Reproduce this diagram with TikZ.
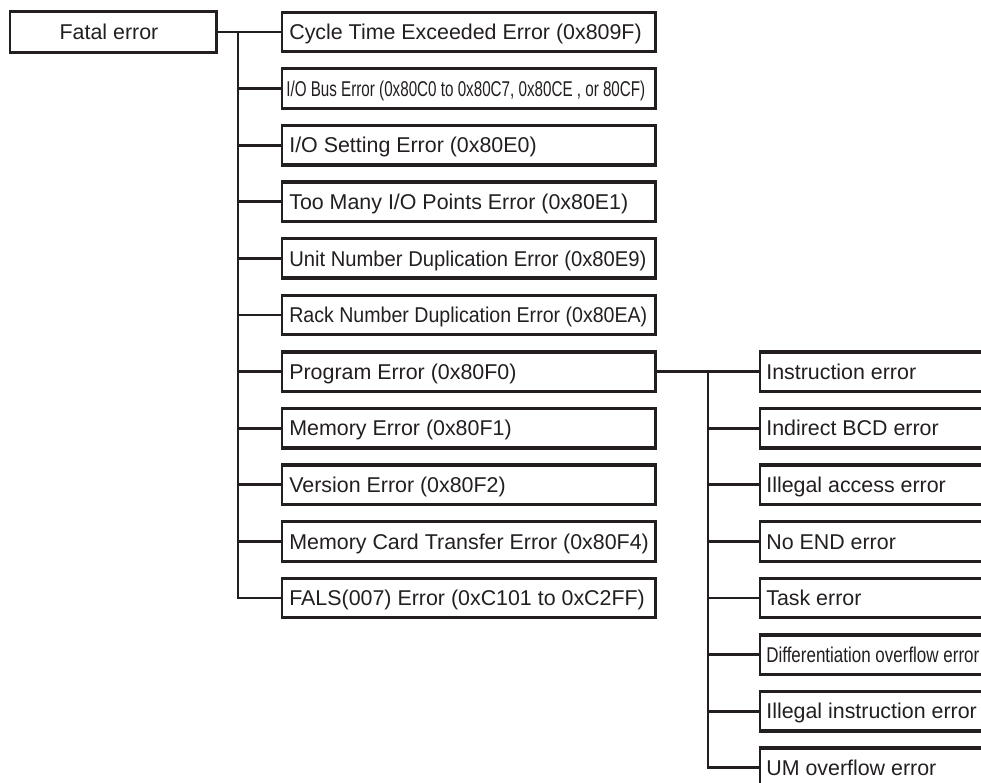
\documentclass[tikz,border=0pt]{standalone}
\usepackage{fontspec}
\setmainfont{Liberation Sans}
\usepackage{graphicx}
\definecolor{ink}{HTML}{231F20}
\newcommand\fitto[2]{\resizebox{#1}{\height}{#2}}
\newcommand\heavyedges[1]{\draw[ink, line width=3pt, line join=miter] (#1.north west) -- (#1.north east) -- (#1.south east) -- (#1.south west);}
\begin{document}
\begin{tikzpicture}[x=1pt,y=-1pt,
  boxshape/.style={rectangle, draw=ink, line width=1.8pt, inner sep=0pt, minimum height=38pt},
  lbox/.style={boxshape, minimum width=373pt},
  rbox/.style={boxshape, minimum width=240pt},
  fbox/.style={boxshape, minimum width=206pt, minimum height=39pt},
  lbl/.style={anchor=base west, inner sep=0pt, text=ink, font=\fontsize{21.4}{25}\selectfont},
  conn/.style={draw=ink, line width=2.8pt},
]
\useasboundingbox (0,0) rectangle (981,783);
\clip (0,0) rectangle (981,783);
\fill[white] (0,0) rectangle (981,783);

% root
\node[fbox] (fatal) at (113,32) {};
\heavyedges{fatal}
\node[lbl, anchor=base] (tfatal) at ([xshift=-4pt,yshift=-7.7pt]fatal.center) {Fatal error};

% left column
\node[lbox] (b1)  at (468.5,32.0) {};
\node[lbox] (b2)  at (468.5,88.6) {};
\node[lbox] (b3)  at (468.5,145.2) {};
\node[lbox] (b4)  at (468.5,201.8) {};
\node[lbox] (b5)  at (468.5,258.4) {};
\node[lbox] (b6)  at (468.5,315.0) {};
\node[lbox] (b7)  at (468.5,371.6) {};
\node[lbox] (b8)  at (468.5,428.2) {};
\node[lbox] (b9)  at (468.5,484.8) {};
\node[lbox] (b10) at (468.5,541.4) {};
\node[lbox] (b11) at (468.5,598.0) {};
\foreach \b in {b1,b2,b3,b4,b5,b6,b7,b8,b9,b10,b11} {\heavyedges{\b}}

\node[lbl] (t1)  at ([xshift=8pt,yshift=-7.7pt]b1.west)  {Cycle Time Exceeded Error (0x809F)};
\node[lbl] (t2)  at ([xshift=5pt,yshift=-7.7pt]b2.west)  {\fitto{359pt}{I/O Bus Error (0x80C0 to 0x80C7, 0x80CE , or 80CF)}};
\node[lbl] (t3)  at ([xshift=8pt,yshift=-7.7pt]b3.west)  {I/O Setting Error (0x80E0)};
\node[lbl] (t4)  at ([xshift=8pt,yshift=-7.7pt]b4.west)  {Too Many I/O Points Error (0x80E1)};
\node[lbl] (t5)  at ([xshift=8pt,yshift=-7.7pt]b5.west)  {\fitto{357pt}{Unit Number Duplication Error (0x80E9)}};
\node[lbl] (t6)  at ([xshift=8pt,yshift=-7.7pt]b6.west)  {\fitto{358pt}{Rack Number Duplication Error (0x80EA)}};
\node[lbl] (t7)  at ([xshift=8pt,yshift=-7.7pt]b7.west)  {Program Error (0x80F0)};
\node[lbl] (t8)  at ([xshift=8pt,yshift=-7.7pt]b8.west)  {Memory Error (0x80F1)};
\node[lbl] (t9)  at ([xshift=8pt,yshift=-7.7pt]b9.west)  {Version Error (0x80F2)};
\node[lbl] (t10) at ([xshift=8pt,yshift=-7.7pt]b10.west) {Memory Card Transfer Error (0x80F4)};
\node[lbl] (t11) at ([xshift=8pt,yshift=-7.7pt]b11.west) {FALS(007) Error (0xC101 to 0xC2FF)};

% right column
\node[rbox] (r1) at (880,371.6) {};
\node[rbox] (r2) at (880,428.2) {};
\node[rbox] (r3) at (880,484.8) {};
\node[rbox] (r4) at (880,541.4) {};
\node[rbox] (r5) at (880,598.0) {};
\node[rbox] (r6) at (880,654.6) {};
\node[rbox] (r7) at (880,711.2) {};
\node[rbox] (r8) at (880,767.8) {};
\foreach \b in {r1,r2,r3,r4,r5,r6,r7,r8} {\heavyedges{\b}}

\node[lbl] (u1) at ([xshift=7pt,yshift=-7.7pt]r1.west) {Instruction error};
\node[lbl] (u2) at ([xshift=7pt,yshift=-7.7pt]r2.west) {Indirect BCD error};
\node[lbl] (u3) at ([xshift=7pt,yshift=-7.7pt]r3.west) {Illegal access error};
\node[lbl] (u4) at ([xshift=7pt,yshift=-7.7pt]r4.west) {No END error};
\node[lbl] (u5) at ([xshift=7pt,yshift=-7.7pt]r5.west) {Task error};
\node[lbl] (u6) at ([xshift=7pt,yshift=-7.7pt]r6.west) {\fitto{213pt}{Differentiation overflow error}};
\node[lbl] (u7) at ([xshift=7pt,yshift=-7.7pt]r7.west) {Illegal instruction error};
\node[lbl] (u8) at ([xshift=7pt,yshift=-7.7pt]r8.west) {UM overflow error};

% connectors: root to left column
\coordinate (trunk) at (238,32);
\draw[conn] (fatal.east) -- (b1.west);
\draw[conn] (trunk) |- (b11.west);
\foreach \b in {b2,b3,b4,b5,b6,b7,b8,b9,b10} {\draw[conn] (trunk |- \b.west) -- (\b.west);}

% connectors: program error to right column
\coordinate (subtrunk) at (708,371.6);
\draw[conn] (b7.east) -- (r1.west);
\draw[conn] (subtrunk) |- (r8.west);
\foreach \b in {r2,r3,r4,r5,r6,r7} {\draw[conn] (subtrunk |- \b.west) -- (\b.west);}
\end{tikzpicture}
\end{document}
